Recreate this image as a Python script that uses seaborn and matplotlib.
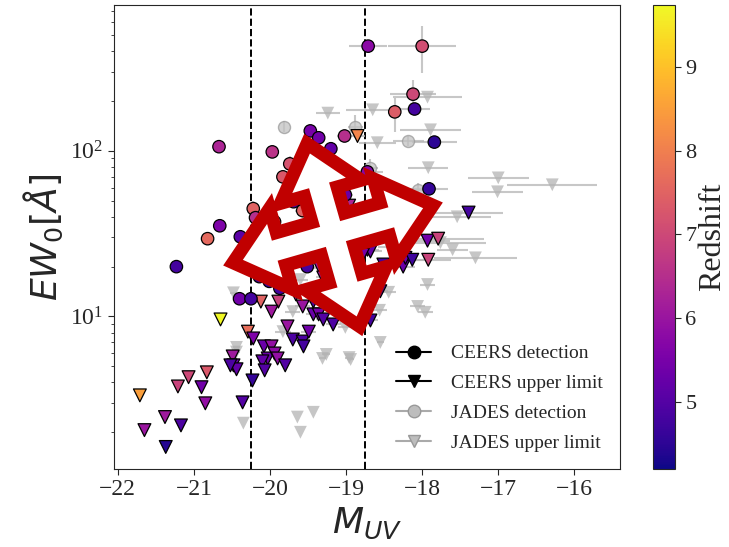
import numpy as np
import matplotlib
matplotlib.use('Agg')
import matplotlib.pyplot as plt
from matplotlib.lines import Line2D
from matplotlib.patches import Polygon
import seaborn as sns

# CEERS detections: M_UV, EW0 [A], redshift, errors
ceers_det_muv = [-18.71, -18.00, -18.12, -18.10, -18.36, -17.84, -17.91, -19.47, -19.36, -19.02,
                 -19.20, -18.72, -20.67, -19.97, -19.74, -19.83, -19.69, -19.01, -19.57, -20.22,
                 -20.19, -19.94, -20.66, -20.82, -20.39, -21.23, -19.51, -20.40, -20.25, -20.14,
                 -20.01, -19.87]
ceers_det_ew = [429, 429, 220, 179, 172, 113, 59.0, 132, 120, 123,
                103, 74.7, 106, 98.6, 83.5, 69.7, 49.3, 54.3, 43.6, 44.8,
                39.5, 37.3, 35.3, 29.5, 30.3, 20.0, 20.0, 12.8, 12.8, 17.4,
                16.3, 14.8]
ceers_det_z = [5.8, 7.1, 7.0, 4.8, 7.4, 4.5, 4.6, 5.5, 5.4, 6.5,
               5.2, 5.7, 6.3, 6.6, 7.2, 7.3, 5.0, 5.3, 7.5, 7.5,
               6.5, 7.4, 5.6, 7.6, 5.1, 4.8, 4.8, 5.4, 4.8, 4.8,
               4.7, 4.8]
ceers_det_xerr = [0.25, 0.45, 0.3, 0.2, 0.0, 0.3, 0.25, 0.0, 0.0, 0.1,
                  0.05, 0.2, 0.0, 0.0, 0.05, 0.0, 0.05, 0.1, 0.1, 0.05,
                  0.0, 0.05, 0.0, 0.0, 0.05, 0.0, 0.1, 0.0, 0.0, 0.0,
                  0.0, 0.0]
ceers_det_ew_lo = [0, 134, 30, 0, 42, 0, 5, 0, 0, 0,
                   0, 6, 0, 0, 8, 0, 0, 0, 4, 4,
                   4, 4, 0, 0, 0, 0, 0, 0, 0, 0,
                   0, 0]
ceers_det_ew_hi = [0, 137, 48, 0, 36, 0, 6, 0, 0, 0,
                   0, 7, 0, 0, 10, 0, 0, 0, 5, 5,
                   5, 5, 0, 0, 0, 0, 0, 0, 0, 0,
                   0, 0]

# CEERS upper limits
ceers_ul_muv = [-18.85, -20.65, -20.12, -19.89, -19.98, -20.29, -20.22, -20.08, -19.98, -20.03,
                -19.94, -19.90, -20.10, -20.07, -19.80, -20.23, -20.49, -20.48, -20.44, -20.52,
                -20.83, -21.07, -21.21, -20.90, -20.85, -20.36, -21.71, -21.38, -21.17, -21.65,
                -21.37, -19.77, -19.70, -19.57, -19.56, -19.49, -19.43, -19.36, -19.30, -19.17,
                -18.68, -19.66, -19.57, -19.43, -19.34, -19.30, -18.72, -18.68, -18.51, -18.25,
                -18.22, -18.13, -18.96, -17.39, -17.93, -17.79, -17.92, -18.55, -18.78]
ceers_ul_ew = [123, 9.6, 12.3, 12.3, 10.7, 8.1, 7.37, 6.6, 6.6, 5.58,
               5.98, 5.58, 5.36, 4.73, 5.07, 4.11, 5.74, 5.07, 4.80, 5.07,
               4.60, 4.30, 3.78, 3.74, 2.99, 3.03, 3.34, 2.47, 2.20, 2.06,
               1.63, 8.71, 7.26, 7.06, 6.6, 8.1, 10.3, 10.3, 9.6, 8.95,
               9.46, 13.6, 11.5, 12.3, 19.5, 17.2, 25.3, 24.7, 20.6, 20.0,
               22.6, 22.0, 46.7, 42.4, 28.7, 29.5, 22.0, 14.2, 23.6]
ceers_ul_z = [8.1, 9.7, 7.5, 6.9, 6.1, 7.7, 5.6, 5.3, 5.9, 5.3,
              5.8, 5.9, 5.2, 5.0, 5.0, 4.6, 6.1, 5.3, 5.2, 4.9,
              7.3, 7.0, 6.9, 5.4, 5.9, 5.0, 8.5, 6.1, 4.9, 6.0,
              4.4, 6.0, 4.9, 4.9, 4.8, 5.4, 5.3, 5.5, 5.0, 4.9,
              4.8, 6.2, 6.0, 5.0, 6.0, 6.0, 5.3, 5.2, 4.8, 5.3,
              5.4, 4.7, 6.3, 4.8, 5.4, 6.9, 6.9, 4.8, 5.5]
ceers_ul_xerr = [0.1, 0.05, 0.05, 0.05, 0.0, 0.05, 0.0, 0.0, 0.0, 0.0,
                 0.0, 0.0, 0.0, 0.0, 0.05, 0.0, 0.0, 0.0, 0.0, 0.0,
                 0.0, 0.0, 0.0, 0.0, 0.0, 0.0, 0.0, 0.0, 0.0, 0.0,
                 0.0, 0.05, 0.05, 0.05, 0.05, 0.1, 0.1, 0.1, 0.1, 0.1,
                 0.1, 0.05, 0.1, 0.1, 0.1, 0.1, 0.15, 0.15, 0.15, 0.15,
                 0.15, 0.15, 0.1, 0.45, 0.3, 0.6, 0.3, 0.1, 0.1]

# JADES detections
jades_det_muv = [-19.82, -18.88, -18.18, -18.68, -18.05]
jades_det_ew = [140, 140, 115, 79, 58.2]
jades_det_xerr = [0.0, 0.1, 0.2, 0.1, 0.15]
jades_det_ew_lo = [10, 20, 8, 8, 6]
jades_det_ew_hi = [12, 25, 8, 10, 6]

# JADES upper limits
jades_ul_muv = [-19.24, -18.65, -18.59, -17.93, -17.89, -17.92, -17.00, -17.01, -16.29, -17.54,
                -17.60, -17.30, -18.43, -17.93, -18.06, -17.96, -18.44, -18.56, -18.55, -17.76,
                -20.48, -20.35, -19.64, -19.43, -19.60, -19.31, -19.26, -18.94, -18.96, -19.01,
                -19.70, -19.83, -19.60, -20.44, -20.44]
jades_ul_ew = [169, 177, 112, 211, 134, 79.1, 68.7, 56.6, 62.4, 40.0,
               25.3, 22.6, 26.1, 15.6, 11.5, 10.6, 14.0, 10.9, 6.97, 27.9,
               13.9, 2.27, 2.47, 2.64, 2.0, 5.58, 5.90, 5.5, 5.65, 8.59,
               10.7, 8.1, 16.7, 6.51, 6.1]
jades_ul_xerr = [0.16, 0.35, 0.24, 0.45, 0.4, 0.26, 0.4, 0.34, 0.59, 0.45,
                 0.2, 0.55, 0.15, 0.1, 0.1, 0.1, 0.1, 0.1, 0.05, 0.6,
                 0.05, 0.0, 0.0, 0.0, 0.0, 0.05, 0.05, 0.05, 0.05, 0.1,
                 0.1, 0.1, 0.1, 0.05, 0.05]

muv_cuts = [-20.25, -18.75]
z_range = (4.2, 9.74)
cbar_ticks = [5, 6, 7, 8, 9]
x_ticks = [-22, -21, -20, -19, -18, -17, -16]

sns.set_style('ticks')
plt.rcParams['font.family'] = ['Liberation Serif', 'DejaVu Serif']
plt.rcParams['mathtext.fontset'] = 'dejavusans'
plt.rcParams['xtick.major.size'] = 4
plt.rcParams['ytick.major.size'] = 4
plt.rcParams['ytick.minor.size'] = 2.5

W, H = 729, 547
fig = plt.figure(figsize=(W / 100, H / 100), dpi=100)
ax = fig.add_axes([114 / W, 1 - 469 / H, 506 / W, 464 / H])
cax = fig.add_axes([653 / W, 1 - 469 / H, 22 / W, 464 / H])

gray = '#b5b5b5'
err_kw = dict(fmt='none', ecolor=gray, elinewidth=1.5, alpha=0.75, zorder=1)

ax.errorbar(jades_ul_muv, jades_ul_ew, xerr=jades_ul_xerr, **err_kw)
ax.errorbar(jades_det_muv, jades_det_ew, xerr=jades_det_xerr,
            yerr=[jades_det_ew_lo, jades_det_ew_hi], **err_kw)
ax.errorbar(ceers_det_muv, ceers_det_ew, xerr=ceers_det_xerr,
            yerr=[ceers_det_ew_lo, ceers_det_ew_hi], **err_kw)
ax.errorbar(ceers_ul_muv, ceers_ul_ew, xerr=ceers_ul_xerr, **err_kw)

sns.scatterplot(x=jades_ul_muv, y=jades_ul_ew, marker='v', color='#b3b3b3', alpha=0.75,
                s=85, edgecolor='none', ax=ax, zorder=2)
sns.scatterplot(x=jades_det_muv, y=jades_det_ew, marker='o', color='#c2c2c2', alpha=0.75,
                s=75, edgecolor='#9a9a9a', linewidth=1.0, ax=ax, zorder=2)
sns.scatterplot(x=ceers_ul_muv, y=ceers_ul_ew, hue=ceers_ul_z, palette='plasma',
                hue_norm=z_range, marker='v', s=85, edgecolor='black', linewidth=0.9,
                legend=False, ax=ax, zorder=3)
sns.scatterplot(x=ceers_det_muv, y=ceers_det_ew, hue=ceers_det_z, palette='plasma',
                hue_norm=z_range, marker='o', s=80, edgecolor='black', linewidth=0.9,
                legend=False, ax=ax, zorder=4)

for m in muv_cuts:
    ax.axvline(m, color='black', ls='--', lw=1.4, zorder=0.5)

ax.set_yscale('log')
ax.set_xlim(-22.05, -15.4)
ax.set_ylim(1.2, 760)
ax.set_xticks(x_ticks)
ax.tick_params(labelsize=17)
ax.set_xlabel('$M_{UV}$', fontsize=26)
ax.set_ylabel(r'$EW_0[\AA]$', fontsize=26)

handles = [
    Line2D([0], [0], color='black', lw=1.5, marker='o', markersize=9, label='CEERS detection'),
    Line2D([0], [0], color='black', lw=1.5, marker='v', markersize=9, label='CEERS upper limit'),
    Line2D([0], [0], color='#aaaaaa', lw=1.5, marker='o', markersize=9, markerfacecolor='#bdbdbd',
           markeredgecolor='#999999', label='JADES detection'),
    Line2D([0], [0], color='#aaaaaa', lw=1.5, marker='v', markersize=9, markerfacecolor='#bdbdbd',
           markeredgecolor='#999999', label='JADES upper limit'),
]
ax.legend(handles=handles, loc='lower right', frameon=False, fontsize=14,
          handlelength=1.8, handletextpad=1.0, labelspacing=0.62)

sm = plt.cm.ScalarMappable(norm=plt.Normalize(*z_range), cmap='plasma')
cb = fig.colorbar(sm, cax=cax)
cb.set_ticks(cbar_ticks)
cb.ax.tick_params(labelsize=16)
cb.set_label('Redshift', fontsize=23, labelpad=1)


# four-way "move" arrow overlay drawn over the plot
def move_icon(cx, cy, ang, lens, w=17, hw=42, hl=50):
    pts = []
    for a, L in zip([0, 90, 180, 270], lens):
        t = np.deg2rad(a)
        arm = [(w, -w), (L - hl, -w), (L - hl, -hw), (L, 0), (L - hl, hw), (L - hl, w)]
        for px, py in arm:
            pts.append((px * np.cos(t) - py * np.sin(t), px * np.sin(t) + py * np.cos(t)))
    pts = np.array(pts)
    r = np.deg2rad(ang)
    rot = np.array([[np.cos(r), -np.sin(r)], [np.sin(r), np.cos(r)]])
    pts = pts @ rot.T + [cx, cy]
    return pts / [W, H]


icon = Polygon(move_icon(333, H - 234, 16, [104, 94, 104, 96]), closed=True,
               facecolor='white', edgecolor='#c00000', linewidth=9.5, joinstyle='miter',
               transform=fig.transFigure, zorder=10)
fig.add_artist(icon)

fig.savefig('out.png', dpi=100)
